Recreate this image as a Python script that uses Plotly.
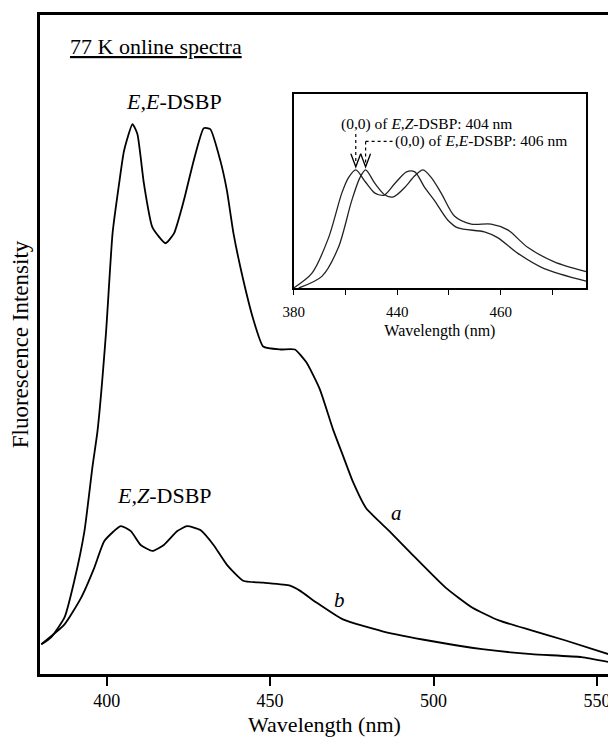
import plotly.graph_objects as go

# ---- main spectra (wavelength nm, relative intensity) ----
wl_a = [380, 383, 387.1, 390.1, 393.2, 395.7, 397.2, 399.8, 401.8, 403.8, 405.3, 407.9, 409.4,
        411.4, 414, 418, 420.6, 423.6, 426.6, 429.7, 431.7, 434.8, 436.8, 438.8, 441.8,
        444.9, 447.9, 453, 457.6, 461.1, 465.2, 469.2, 472.3, 475.3, 479.4, 486.5, 493.6,
        503.7, 511.8, 520, 530, 540.2, 553.6]
int_a = [30, 37, 57, 94, 144, 210, 245, 344, 444, 494, 527, 554, 544,
         494, 450, 434, 444, 477, 517, 550, 549, 517, 487, 444, 397,
         357, 330, 327, 327, 314, 287, 247, 220, 194, 167, 144, 120,
         87, 67, 54, 44, 34, 20]

wl_b = [380, 387.1, 392.2, 396.2, 399.3, 404.3, 407.4, 410.4, 414, 417.5, 421.6, 424.6,
        428.7, 432.7, 436.8, 441.8, 447.9, 456.1, 459.1, 464.2, 472.3, 484.4, 499.7,
        514.9, 530, 545.3, 553.6]
int_b = [30, 50, 77, 107, 134, 149, 144, 130, 124, 130, 144, 149,
         145, 130, 110, 94, 92, 89, 84, 72, 55, 43, 33,
         25, 20, 17, 12]

# ---- inset: normalised spectra ----
wl_ez = [380, 387, 393.5, 398.6, 401.2, 404, 407.6, 411.4, 415, 419.1, 423.6, 426.8,
         430.6, 434.5, 439.6, 443.5, 453.7, 458.8, 466.5, 476.8, 493]
v_ez = [0.0, 0.075, 0.26, 0.49, 0.57, 0.61, 0.55, 0.49, 0.48, 0.54, 0.60, 0.60,
        0.52, 0.45, 0.35, 0.31, 0.29, 0.26, 0.18, 0.10, 0.035]
wl_ee = [382, 390.9, 397.3, 402.4, 405.6, 407.8, 411.4, 415.3, 418.5, 423, 426.8, 430,
         433.2, 437, 442.2, 448.6, 456.3, 462.7, 470.4, 480.7, 493]
v_ee = [0.0, 0.06, 0.21, 0.45, 0.57, 0.61, 0.54, 0.48, 0.47, 0.52, 0.58, 0.61,
        0.57, 0.49, 0.37, 0.33, 0.33, 0.30, 0.21, 0.135, 0.084]

main_ticks = [400, 450, 500, 550]
inset_tickvals = [380, 400, 420, 440, 460, 480]
inset_ticktext = ["380", "", "440", "", "460", ""]
peak_ez = 404.0      # arrow position (E,Z)
peak_ee = 407.8      # arrow position (E,E) as drawn
peak_top = 0.626

FONT = "Liberation Serif"
fig = go.Figure()
fig.add_trace(go.Scatter(x=wl_a, y=int_a, mode="lines",
                         line=dict(color="black", width=1.8, shape="spline", smoothing=0.5),
                         showlegend=False, hoverinfo="skip"))
fig.add_trace(go.Scatter(x=wl_b, y=int_b, mode="lines",
                         line=dict(color="black", width=1.8, shape="spline", smoothing=0.5),
                         showlegend=False, hoverinfo="skip"))
fig.add_trace(go.Scatter(x=wl_ez, y=v_ez, mode="lines", xaxis="x2", yaxis="y2",
                         line=dict(color="#222", width=1.3, shape="spline", smoothing=0.8),
                         showlegend=False, hoverinfo="skip"))
fig.add_trace(go.Scatter(x=wl_ee, y=v_ee, mode="lines", xaxis="x2", yaxis="y2",
                         line=dict(color="#222", width=1.3, shape="spline", smoothing=0.8),
                         showlegend=False, hoverinfo="skip"))

shapes = []
dot = dict(color="black", width=1.2, dash="dot")
shapes.append(dict(type="line", xref="x2", yref="y2", x0=peak_ez, x1=peak_ez,
                   y0=0.795, y1=peak_top + 0.02, line=dot))
shapes.append(dict(type="line", xref="x2", yref="y2", x0=peak_ee, x1=peak_ee,
                   y0=0.757, y1=peak_top + 0.02, line=dot))
shapes.append(dict(type="line", xref="x2", yref="y2", x0=peak_ee, x1=418.2,
                   y0=0.757, y1=0.757, line=dot))
for px in (peak_ez, peak_ee):
    shapes.append(dict(type="path", xref="x2", yref="y2",
                       path=f"M {px-1.9},{peak_top+0.067} L {px},{peak_top} L {px+1.9},{peak_top+0.067}",
                       line=dict(color="black", width=1.3)))

annotations = [
    dict(text="<u>77 K online spectra</u>", xref="paper", yref="paper", x=0.049, y=0.952,
         xanchor="left", yanchor="middle", showarrow=False, font=dict(size=22, family=FONT, color="black")),
    dict(text="<i>E,E</i>-DSBP", xref="paper", yref="paper", x=0.236, y=0.869,
         xanchor="center", yanchor="middle", showarrow=False, font=dict(size=22, family=FONT, color="black")),
    dict(text="<i>E,Z</i>-DSBP", xref="paper", yref="paper", x=0.2185, y=0.271,
         xanchor="center", yanchor="middle", showarrow=False, font=dict(size=22, family=FONT, color="black")),
    dict(text="<i>a</i>", xref="paper", yref="paper", x=0.626, y=0.244,
         xanchor="center", yanchor="middle", showarrow=False, font=dict(size=21, family=FONT, color="black")),
    dict(text="<i>b</i>", xref="paper", yref="paper", x=0.527, y=0.113,
         xanchor="center", yanchor="middle", showarrow=False, font=dict(size=21, family=FONT, color="black")),
    dict(text="(0,0) of <i>E,Z</i>-DSBP: 404 nm", xref="x2", yref="y2", x=431.2, y=0.846,
         xanchor="center", yanchor="middle", showarrow=False, font=dict(size=15.5, family=FONT, color="black")),
    dict(text="(0,0) of <i>E,E</i>-DSBP: 406 nm", xref="x2", yref="y2", x=418.5, y=0.759,
         xanchor="left", yanchor="middle", showarrow=False, font=dict(size=15.5, family=FONT, color="black")),
]

# the page adds an 8 px body margin, so the figure is 8 px smaller and shifted accordingly
fig.update_layout(
    width=608, height=730,
    margin=dict(l=32, r=4, t=5, b=61),
    paper_bgcolor="white", plot_bgcolor="white",
    font=dict(family=FONT, color="black"),
    shapes=shapes, annotations=annotations,
    xaxis=dict(domain=[0, 1], range=[379.6, 553.7], tickvals=main_ticks,
               ticks="outside", ticklen=9, tickwidth=2, tickcolor="black",
               showline=True, linecolor="black", linewidth=2.5, mirror=True,
               showgrid=False, zeroline=False, tickfont=dict(size=18, family=FONT),
               title=dict(text="Wavelength (nm)", font=dict(size=22, family=FONT), standoff=7)),
    yaxis=dict(domain=[0, 1], range=[0, 664], showticklabels=False, ticks="",
               showline=True, linecolor="black", linewidth=2.5, mirror=True,
               showgrid=False, zeroline=False,
               title=dict(text="Fluorescence Intensity", font=dict(size=23, family=FONT), standoff=3)),
    xaxis2=dict(domain=[0.4458, 0.9598], anchor="y2", range=[380, 493],
                tickvals=inset_tickvals, ticktext=inset_ticktext,
                ticks="outside", ticklen=5, tickwidth=1.3, tickcolor="black",
                ticklabelstandoff=4,
                showline=True, linecolor="black", linewidth=1.8, mirror=True,
                showgrid=False, zeroline=False, tickfont=dict(size=15, family=FONT),
                title=dict(text="Wavelength (nm)", font=dict(size=16, family=FONT), standoff=6)),
    yaxis2=dict(domain=[0.5858, 0.8795], anchor="x2", range=[0, 1],
                showticklabels=False, ticks="",
                showline=True, linecolor="black", linewidth=1.8, mirror=True,
                showgrid=False, zeroline=False),
)

fig.write_html("out.html")
